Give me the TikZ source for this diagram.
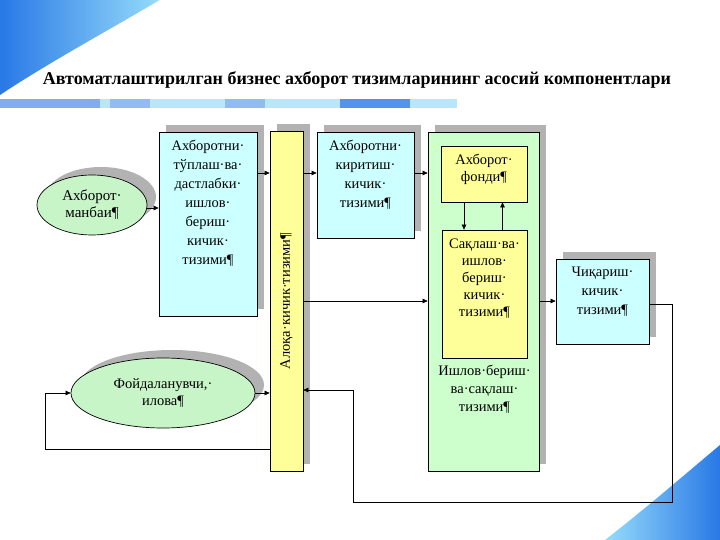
\documentclass[tikz,border=0pt]{standalone}
\usepackage{fontspec}
\setmainfont{Liberation Serif}
\usetikzlibrary{shapes.geometric,shadows,arrows.meta}
\definecolor{boxcyan}{RGB}{204,255,255}
\definecolor{boxgreen}{RGB}{204,255,204}
\definecolor{boxyellow}{RGB}{255,255,153}
\definecolor{ovalgreen}{RGB}{200,245,200}
\definecolor{shadegray}{RGB}{178,178,178}
\definecolor{decoblue}{RGB}{40,120,230}
\definecolor{decolight}{RGB}{150,220,250}
\begin{document}
\begin{tikzpicture}[x=1pt,y=-1pt,
  subsys/.style={draw=black,line width=0.7pt,inner sep=0pt,
    general shadow={fill=shadegray,shadow xshift=7pt,shadow yshift=7pt}},
  oval/.style={ellipse,draw=black,line width=0.7pt,fill=ovalgreen,inner sep=0pt,align=center,
    font=\fontsize{14.5}{17}\selectfont,
    general shadow={fill=shadegray,shadow xshift=9pt,shadow yshift=8pt}},
  lbl/.style={align=center,inner sep=0pt,anchor=north,font=\fontsize{14.5}{17}\selectfont},
  arr/.style={-{Triangle[length=5pt,width=4.5pt]},line width=0.6pt}]
\useasboundingbox (0,0) rectangle (720,540);
% background corners
\shade[left color=decoblue,right color=decolight] (0,0) -- (160,0) .. controls (100,35) and (45,65) .. (0,95) -- cycle;
\draw[white,line width=2pt] (162,0) .. controls (100,38) and (45,68) .. (0,100);
\draw[white,line width=1pt] (190,0) .. controls (120,40) and (60,70) .. (10,110);
\shade[left color=decolight,right color=decoblue] (720,445) .. controls (690,470) and (650,505) .. (605,540) -- (720,540) -- cycle;
\draw[white,line width=2pt] (720,440) .. controls (690,466) and (650,500) .. (600,540);
% title stripe
\fill[decolight!70] (0,99) rectangle (457,108);
\fill[decoblue!60] (0,99) rectangle (100,108);
\fill[decoblue!50] (110,99) rectangle (150,108);
\fill[decoblue!50] (225,99) rectangle (265,108);
\fill[decoblue!80] (340,99) rectangle (410,108);
\node[font=\bfseries\fontsize{18}{21}\selectfont] (title) at (357,80) {Автоматлаштирилган бизнес ахборот тизимларининг асосий компонентлари};

% blocks
\node[oval,minimum width=110,minimum height=60,font=\fontsize{15}{17}\selectfont] (src) at (92,205) {Ахборот·\\манбаи¶};
\node[subsys,fill=boxcyan,minimum width=98,minimum height=184] (collect) at (208,224) {};
\node[lbl,font=\fontsize{14.5}{19}\selectfont] (collect-t) at ([yshift=-8pt]collect.north) {Ахборотни·\\тўплаш·ва·\\дастлабки·\\ишлов·\\бериш·\\кичик·\\тизими¶};
\node[subsys,fill=boxyellow,minimum width=33,minimum height=340] (comm) at (286.5,301) {\rotatebox{90}{\fontsize{14.5}{17}\selectfont Алоқа·кичик·тизими¶}};
\node[subsys,fill=boxcyan,minimum width=97,minimum height=106] (input) at (365.5,185) {};
\node[lbl,font=\fontsize{14.5}{19}\selectfont] (input-t) at ([yshift=-8pt]input.north) {Ахборотни·\\киритиш·\\кичик·\\тизими¶};
\node[subsys,fill=boxgreen,minimum width=111,minimum height=339] (store) at (483.5,301.5) {};
\node[draw=black,line width=0.7pt,fill=boxyellow,minimum width=86,minimum height=56] (fund) at (484,174) {};
\node[lbl] (fund-t) at ([yshift=-8pt]fund.north) {Ахборот·\\фонди¶};
\node[draw=black,line width=0.7pt,fill=boxyellow,minimum width=85,minimum height=128] (proc) at (484.5,294) {};
\node[lbl] (proc-t) at ([yshift=-9pt]proc.north) {Сақлаш·ва·\\ишлов·\\бериш·\\кичик·\\тизими¶};
\node[lbl,font=\fontsize{14.5}{18}\selectfont] (store-t) at ([yshift=-7pt]proc.south) {Ишлов·бериш·\\ва·сақлаш·\\тизими¶};
\node[subsys,fill=boxcyan,minimum width=93,minimum height=85] (output) at (602.5,301.5) {};
\node[lbl,font=\fontsize{14.5}{19}\selectfont] (output-t) at ([yshift=-8pt]output.north) {Чиқариш·\\кичик·\\тизими¶};
\node[oval,minimum width=184,minimum height=70] (user) at (163,393) {Фойдаланувчи,·\\илова¶};

% connectors
\coordinate (row1) at (0,173);
\coordinate (row2) at (0,301);
\coordinate (fb1) at (672,502);
\coordinate (fb2) at (353,390);
\coordinate (fb3) at (45,449);
\draw[arr] ([yshift=-3pt]src.east) -- ([yshift=-3pt]src.east -| collect.west);
\draw[arr] (collect.east |- row1) -- (comm.west |- row1);
\draw[arr] (comm.east |- row1) -- (input.west |- row1);
\draw[arr] (input.east |- row1) -- (store.west |- row1);
\draw[arr] ([xshift=-20pt]fund.south) -- ([xshift=-20pt]fund.south |- proc.north);
\draw[arr] ([xshift=18pt]proc.north) -- ([xshift=18pt]proc.north |- fund.south);
\draw[arr] (comm.east |- row2) -- (store.west |- row2);
\draw[arr] (store.east |- row2) -- (output.west |- row2);
\draw[line width=0.6pt] ([yshift=-3pt]output.east) -| (fb1) -| (fb2);
\draw[arr] (fb2) -- (comm.east |- fb2);
\draw[arr] (user.east) -- (user.east -| comm.west);
\draw[arr] (comm.west |- fb3) -- (fb3) |- (user.west);
\end{tikzpicture}
\end{document}
